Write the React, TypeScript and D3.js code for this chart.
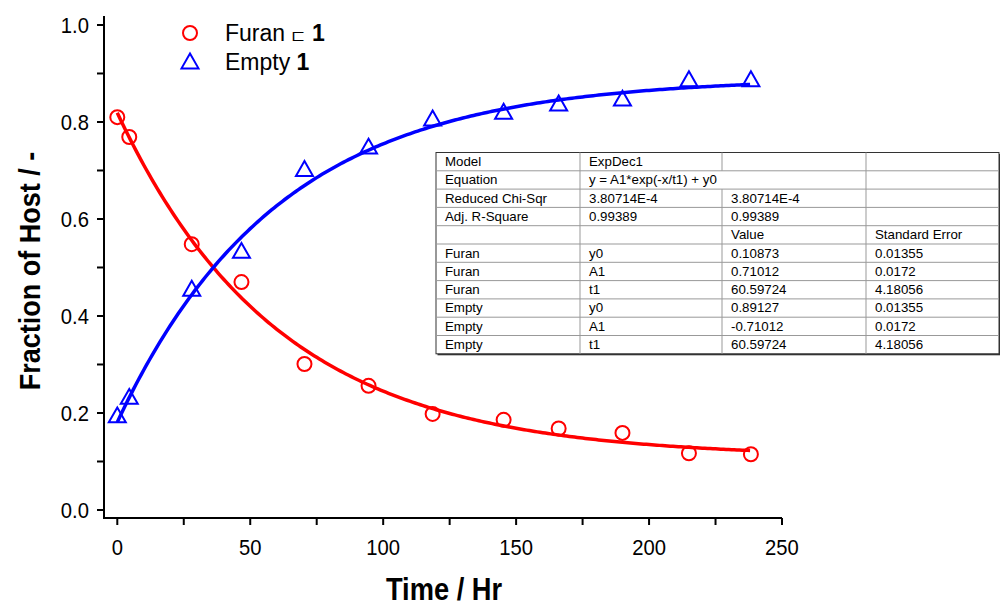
import React from "react";
import * as d3 from "d3";

const timeFuran = [0, 4.5, 28, 46.7, 70.4, 94.5, 118.6, 145.3, 166, 190, 215, 238.3];
const furan = [0.81, 0.769, 0.548, 0.47, 0.301, 0.256, 0.198, 0.186, 0.168, 0.159, 0.117, 0.115];
const timeEmpty = [0, 4.5, 28, 46.7, 70.4, 94.5, 118.6, 145.3, 166, 190, 215, 238.3];
const empty = [0.194, 0.232, 0.455, 0.533, 0.702, 0.748, 0.806, 0.82, 0.837, 0.847, 0.887, 0.887];

// fit parameters (from table): y0, A1, t1
const furanFit = [0.10873, 0.71012, 60.59724];
const emptyFit = [0.89127, -0.71012, 60.59724];
const fitRange = [0, 238];

const xTicks = [0, 50, 100, 150, 200, 250];
const xMinor = [25, 75, 125, 175, 225];
const yTicks = [0, 0.2, 0.4, 0.6, 0.8, 1.0];
const yMinor = [0.1, 0.3, 0.5, 0.7, 0.9];

const tableRows = [
  ["Model", "ExpDec1", "", ""],
  ["Equation", "y = A1*exp(-x/t1) + y0", "", ""],
  ["Reduced Chi-Sqr", "3.80714E-4", "3.80714E-4", ""],
  ["Adj. R-Square", "0.99389", "0.99389", ""],
  ["", "", "Value", "Standard Error"],
  ["Furan", "y0", "0.10873", "0.01355"],
  ["Furan", "A1", "0.71012", "0.0172"],
  ["Furan", "t1", "60.59724", "4.18056"],
  ["Empty", "y0", "0.89127", "0.01355"],
  ["Empty", "A1", "-0.71012", "0.0172"],
  ["Empty", "t1", "60.59724", "4.18056"],
];

const FONT = "'Liberation Sans', Arial, sans-serif";

export default function App() {
  const W = 1000, H = 605;
  const x = d3.scaleLinear().domain([-5, 250]).range([104, 782]);
  const y = d3.scaleLinear().domain([-0.0165, 1.0185]).range([518, 16]);

  const fitPts = d3.range(fitRange[0], fitRange[1] + 0.01, 1);
  const line = (p: number[]) =>
    d3.line<number>()
      .x((t) => x(t))
      .y((t) => y(p[0] + p[1] * Math.exp(-t / p[2])))
      .curve(d3.curveLinear)(fitPts) || "";

  const tri = (cx: number, cy: number, s = 8.5) =>
    `M${cx},${cy - s} L${cx + s},${cy + s * 0.75} L${cx - s},${cy + s * 0.75} Z`;

  const colX = [436, 580, 722, 866, 999];
  const rowH = 18.3;
  const tTop = 152.5;
  const nRows = tableRows.length;

  return (
    <svg width={W} height={H} style={{ display: "block", position: "absolute", left: 0, top: 0 }} fontFamily={FONT}>
      <rect width={W} height={H} fill="white" />
      {/* axes */}
      <line x1={104} x2={104} y1={16} y2={518} stroke="black" strokeWidth={2} />
      <line x1={103} x2={782} y1={518} y2={518} stroke="black" strokeWidth={2} />
      {xTicks.concat(xMinor).map((t) => (
        <line key={"xt" + t} x1={x(t)} x2={x(t)} y1={518} y2={525} stroke="black" strokeWidth={2} />
      ))}
      {yTicks.concat(yMinor).map((t) => (
        <line key={"yt" + t} x1={97} x2={104} y1={y(t)} y2={y(t)} stroke="black" strokeWidth={2} />
      ))}
      {xTicks.map((t) => (
        <text key={"xl" + t} transform={`translate(${x(t)},555) scale(0.92,1)`} fontSize={22} textAnchor="middle">{t}</text>
      ))}
      {yTicks.map((t) => (
        <text key={"yl" + t} transform={`translate(89,${y(t) + 8}) scale(0.92,1)`} fontSize={22} textAnchor="end">{t.toFixed(1)}</text>
      ))}
      <text transform="translate(444,600) scale(0.88,1)" fontSize={31} fontWeight="bold" textAnchor="middle">Time / Hr</text>
      <text transform="translate(40,271) rotate(-90) scale(0.9,1)" fontSize={30} fontWeight="bold" textAnchor="middle">Fraction of Host / -</text>

      {/* fit lines */}
      <path d={line(furanFit)} fill="none" stroke="#ff0000" strokeWidth={3.5} />
      <path d={line(emptyFit)} fill="none" stroke="#0000ff" strokeWidth={3.5} />

      {/* markers */}
      {timeFuran.map((t, i) => (
        <circle key={"f" + i} cx={x(t)} cy={y(furan[i])} r={7} fill="none" stroke="#ff0000" strokeWidth={2} />
      ))}
      {timeEmpty.map((t, i) => (
        <path key={"e" + i} d={tri(x(t), y(empty[i]))} fill="none" stroke="#0000ff" strokeWidth={2} />
      ))}

      {/* legend */}
      <circle cx={190} cy={33} r={7} fill="none" stroke="#ff0000" strokeWidth={2} />
      <text x={225} y={41} fontSize={23}>Furan <tspan fontSize={17}>⊏</tspan> <tspan fontWeight="bold">1</tspan></text>
      <path d={tri(190, 62)} fill="none" stroke="#0000ff" strokeWidth={2} />
      <text x={225} y={70} fontSize={23}>Empty <tspan fontWeight="bold">1</tspan></text>

      {/* table */}
      <rect x={colX[0] + 1.5} y={tTop + 1.5} width={colX[4] - colX[0]} height={rowH * nRows} fill="#333" />
      <rect x={colX[0]} y={tTop} width={colX[4] - colX[0]} height={rowH * nRows} fill="white" stroke="#333" strokeWidth={1} />
      {d3.range(1, nRows).map((r) => (
        <line key={"hr" + r} x1={colX[0]} x2={colX[4]} y1={tTop + r * rowH} y2={tTop + r * rowH} stroke="#999" strokeWidth={1} />
      ))}
      {[1, 2, 3].map((c) => (
        <g key={"vc" + c}>
          {d3.range(nRows).filter((r) => !(c === 2 && r === 1)).map((r) => (
            <line key={r} x1={colX[c]} x2={colX[c]} y1={tTop + r * rowH} y2={tTop + (r + 1) * rowH} stroke="#999" strokeWidth={1} />
          ))}
        </g>
      ))}
      {tableRows.map((row, r) =>
        row.map((cell, c) =>
          cell ? (
            <text key={r + "-" + c} x={colX[c] + 9} y={tTop + r * rowH + 13.5} fontSize={13.3} fill="#000">{cell}</text>
          ) : null
        )
      )}
    </svg>
  );
}
